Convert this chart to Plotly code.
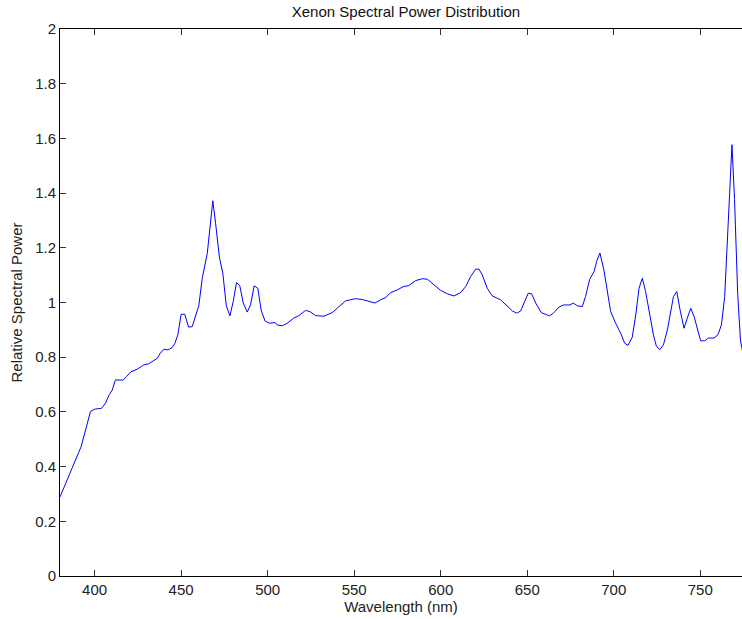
import plotly.graph_objects as go

wavelength = [380, 388, 392.2, 397.6, 400, 404, 406.3, 408.2, 410.2, 412, 414, 416.5, 418.4, 420.8,
              424.6, 428.4, 431.3, 436.2, 438, 440, 442.5, 444.8, 446.4, 448.1, 450, 452.1, 454.3,
              456.4, 460.2, 462.2, 465.1, 468.3, 469.9, 472.2, 474.1, 476.1, 478.2, 480.1, 482, 483.9,
              485.9, 488.2, 490.1, 492.2, 494.3, 496.3, 498.5, 501.2, 504.3, 505.5, 508.4, 511.3,
              515.1, 518, 521.9, 524.4, 527.7, 532.5, 537.3, 541.2, 545, 547.9, 550.8, 554.7, 558.5,
              562, 565.3, 568.2, 571, 574.9, 578.4, 581.6, 585.5, 589.4, 592.3, 596.1, 600, 603.8,
              607.6, 611.5, 614.4, 617.3, 620.2, 622.1, 624, 626.9, 629.8, 634.6, 638.5, 641.4,
              643.9, 646.2, 648.5, 650.6, 652.5, 654.9, 658.1, 660.6, 662.9, 665.1, 668.3, 670.9,
              674.7, 676.6, 678.9, 681.8, 683.7, 686.1, 688.6, 690.1, 692, 694.3, 696.3, 698.2,
              701.1, 704, 706.3, 708.2, 710.7, 712.7, 714.6, 716.5, 718.4, 720.4, 722.9, 724.6,
              726.5, 728.7, 731, 734.5, 736.4, 738.3, 740.6, 742.5, 744.5, 746.4, 750.2, 752.5,
              754.7, 757.9, 760.2, 762.2, 764.1, 768.3, 769.8, 771.6, 773.2, 775]
power = [0.289, 0.412, 0.473, 0.601, 0.61, 0.613, 0.632, 0.66, 0.68, 0.717, 0.717, 0.716, 0.729, 0.746,
         0.756, 0.772, 0.776, 0.796, 0.815, 0.829, 0.827, 0.835, 0.851, 0.882, 0.957, 0.957, 0.91,
         0.912, 0.988, 1.089, 1.18, 1.372, 1.29, 1.162, 1.107, 0.988, 0.951, 1.004, 1.073, 1.061,
         0.998, 0.965, 0.991, 1.061, 1.052, 0.97, 0.932, 0.924, 0.927, 0.918, 0.915, 0.924,
         0.943, 0.952, 0.971, 0.967, 0.952, 0.95, 0.963, 0.985, 1.006, 1.01, 1.014, 1.011, 1.005,
         0.998, 1.01, 1.018, 1.036, 1.046, 1.058, 1.062, 1.08, 1.087, 1.085, 1.065, 1.044, 1.032,
         1.024, 1.036, 1.058, 1.095, 1.122, 1.122, 1.101, 1.052, 1.024, 1.01, 0.988, 0.969,
         0.961, 0.969, 1.004, 1.034, 1.032, 0.998, 0.963, 0.958, 0.951, 0.961, 0.983, 0.991,
         0.991, 0.998, 0.988, 0.985, 1.022, 1.085, 1.113, 1.15, 1.181, 1.119, 1.046, 0.967,
         0.924, 0.888, 0.851, 0.843, 0.873, 0.955, 1.052, 1.089, 1.04, 0.967, 0.882, 0.841,
         0.827, 0.845, 0.9, 1.022, 1.04, 0.973, 0.906, 0.943, 0.979, 0.949, 0.86, 0.86,
         0.87, 0.87, 0.882, 0.918, 1.022, 1.577, 1.376, 1.034, 0.863, 0.80]

x_ticks = [400, 450, 500, 550, 600, 650, 700, 750]
y_ticks = [0, 0.2, 0.4, 0.6, 0.8, 1, 1.2, 1.4, 1.6, 1.8, 2]
y_tick_text = ["0", "0.2", "0.4", "0.6", "0.8", "1", "1.2", "1.4", "1.6", "1.8", "2"]

FONT = "Liberation Sans, Arial, Helvetica, sans-serif"

fig = go.Figure()
fig.add_trace(go.Scatter(x=wavelength, y=power, mode="lines",
                         line=dict(color="rgb(0,0,255)", width=1), showlegend=False,
                         hoverinfo="x+y"))

fig.update_layout(
    width=742, height=619,
    margin=dict(l=60, r=0, t=29, b=43),
    paper_bgcolor="white", plot_bgcolor="white",
    font=dict(family=FONT, size=15, color="#222222"),
    title=dict(text="Xenon Spectral Power Distribution", x=406 / 742, xref="container",
               xanchor="center", y=1 - 12 / 619, yref="container", yanchor="middle",
               font=dict(family=FONT, size=15, color="#111111")),
    xaxis=dict(range=[380, 774.1], tickmode="array", tickvals=x_ticks,
               ticks="inside", ticklen=6, tickcolor="#333333", tickwidth=1,
               showline=True, linecolor="black", linewidth=1, mirror="ticks",
               showgrid=False, zeroline=False,
               title=dict(text="Wavelength (nm)", standoff=4, font=dict(size=15)),
               ticklabelstandoff=0),
    yaxis=dict(range=[0, 2], tickmode="array", tickvals=y_ticks, ticktext=y_tick_text,
               ticks="inside", ticklen=6, tickcolor="#333333", tickwidth=1,
               showline=True, linecolor="black", linewidth=1, mirror=False,
               showgrid=False, zeroline=False, ticklabelstandoff=0,
               title=dict(text="Relative Spectral Power", standoff=8, font=dict(size=15))),
)

fig.write_html("out.html")
